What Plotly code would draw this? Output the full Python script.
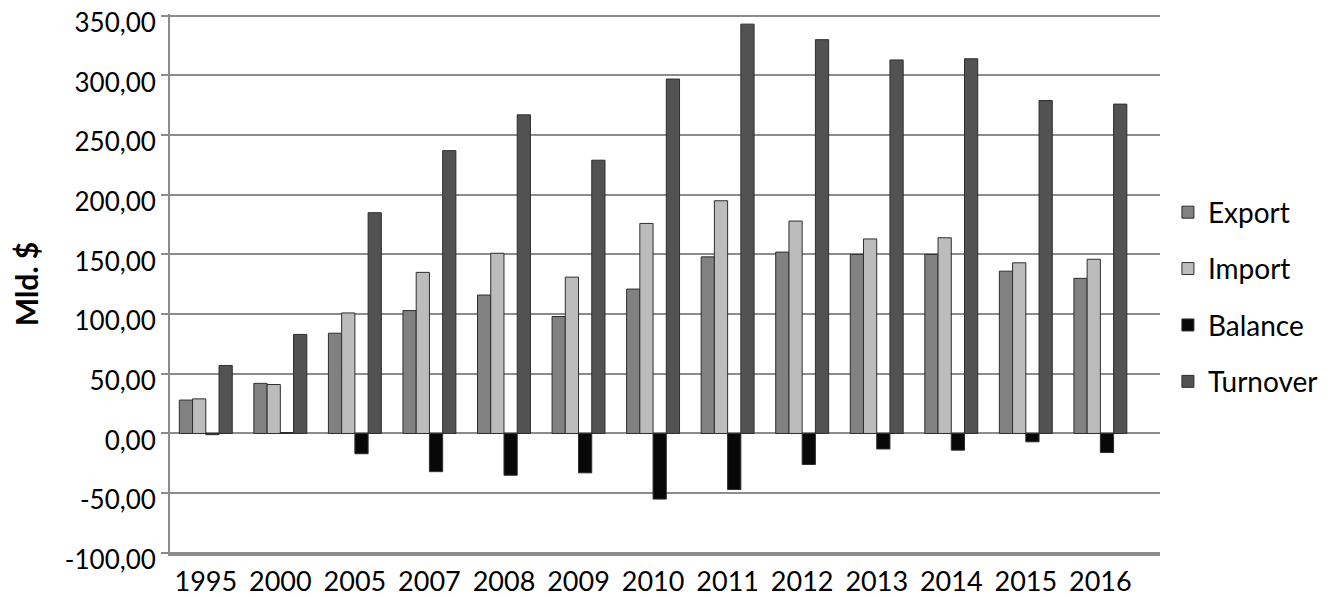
import plotly.graph_objects as go

years = ["1995", "2000", "2005", "2007", "2008", "2009", "2010",
         "2011", "2012", "2013", "2014", "2015", "2016"]
export = [28, 42, 84, 103, 116, 98, 121, 148, 152, 150, 150, 136, 130]
imports = [29, 41, 101, 135, 151, 131, 176, 195, 178, 163, 164, 143, 146]
balance = [-1, 0.8, -17, -32, -35, -33, -55, -47, -26, -13, -14, -7, -16]
turnover = [57, 83, 185, 237, 267, 229, 297, 343, 330, 313, 314, 279, 276]

y_ticks = [-100, -50, 0, 50, 100, 150, 200, 250, 300, 350]
y_ticktext = [f"{v:.2f}".replace(".", ",") for v in y_ticks]

series = [
    ("Export", export, "#818181"),
    ("Import", imports, "#bcbcbc"),
    ("Balance", balance, "#080808"),
    ("Turnover", turnover, "#525252"),
]

fig = go.Figure()
for name, vals, col in series:
    fig.add_trace(go.Bar(
        x=years, y=vals, name=name, legendgroup=name,
        marker=dict(color=col, line=dict(color="#2e2e2e", width=1)),
    ))

font_family = "Lato, 'Open Sans', sans-serif"

fig.update_layout(
    width=1322, height=590,
    margin=dict(l=162, r=170, t=6, b=44),
    paper_bgcolor="white", plot_bgcolor="white",
    barmode="group", bargap=0.29, bargroupgap=0,
    font=dict(family=font_family, color="black"),
    showlegend=True,
    legend=dict(
        x=1.008, xanchor="left", y=0.476, yanchor="middle",
        font=dict(size=28, family=font_family, color="black"),
        tracegroupgap=17, itemwidth=30,
        bgcolor="rgba(0,0,0,0)",
    ),
    xaxis=dict(
        type="category", range=[-0.48, 12.8], automargin=False,
        tickfont=dict(size=27, family=font_family, color="black"),
        showgrid=False, showline=True, linecolor="#8c8c8c", linewidth=2,
        ticks="", ticklabelstandoff=3,
    ),
    yaxis=dict(
        range=[-101, 351.5], tickvals=y_ticks, ticktext=y_ticktext,
        ticklabeloverflow="allow", automargin=False, ticklabelshift=7,
        tickfont=dict(size=26, family=font_family, color="black"),
        showgrid=True, gridcolor="#8c8c8c", gridwidth=2,
        zeroline=True, zerolinecolor="#8c8c8c", zerolinewidth=2,
        showline=True, linecolor="#8c8c8c", linewidth=2,
        ticks="outside", ticklen=7, tickcolor="#8c8c8c", tickwidth=2,
        title=dict(text="<b>Mld. $</b>", font=dict(size=30, family=font_family, color="black"), standoff=46),
    ),
)

fig.write_html("out.html")
